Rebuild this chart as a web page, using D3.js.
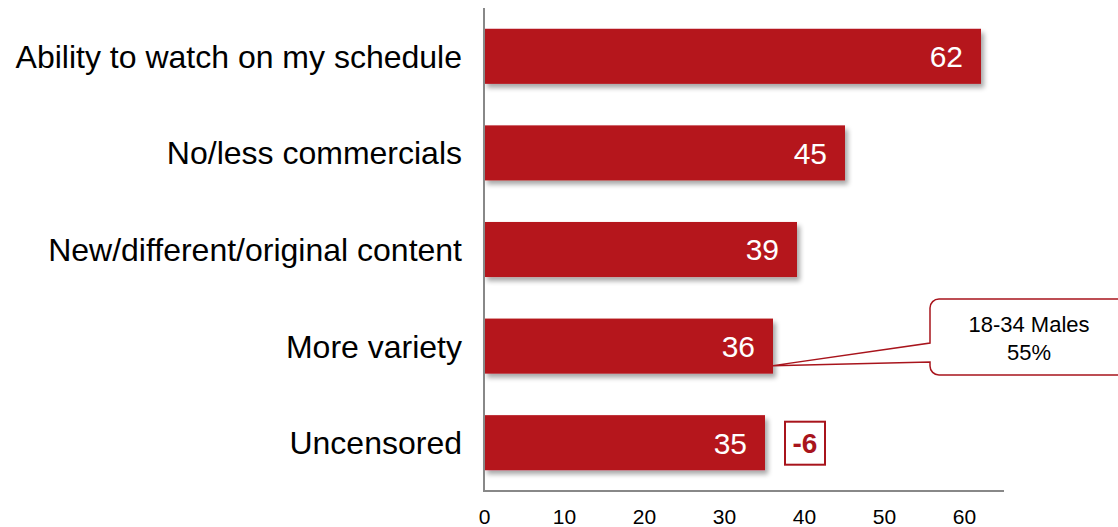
<!DOCTYPE html>
<html>
<head>
<meta charset="utf-8">
<script src="https://cdn.jsdelivr.net/npm/d3@7"></script>
<style>
  body { margin: 0; background: #fff; }
  text { font-family: "Liberation Sans", Arial, sans-serif; }
</style>
</head>
<body>
<script>
var categories = ["Ability to watch on my schedule", "No/less commercials", "New/different/original content", "More variety", "Uncensored"];
var values = [62, 45, 39, 36, 35];
var xTicks = [0, 10, 20, 30, 40, 50, 60];
var calloutLines = ["18-34 Males", "55%"];
var calloutFor = "More variety";
var changeLabel = "-6";
var changeFor = "Uncensored";

var W = 1118, H = 527;
var barColor = "#b5121b";
var darkRed = "#a8141c";

var svg = d3.select("body").append("svg")
  .attr("width", W).attr("height", H);

var defs = svg.append("defs");
var f = defs.append("filter").attr("id", "shadow")
  .attr("x", "-5%").attr("y", "-20%").attr("width", "115%").attr("height", "160%");
f.append("feGaussianBlur").attr("in", "SourceAlpha").attr("stdDeviation", 2.5);
f.append("feOffset").attr("dx", 3).attr("dy", 4).attr("result", "ob");
f.append("feComponentTransfer").append("feFuncA").attr("type", "linear").attr("slope", 0.35);
var m = f.append("feMerge");
m.append("feMergeNode");
m.append("feMergeNode").attr("in", "SourceGraphic");

var x = d3.scaleLinear().domain([0, 65]).range([484, 1004]);
var y = d3.scaleBand().domain(categories).range([8, 491]).paddingInner(0.43).paddingOuter(0.215);

// bars
svg.selectAll("rect.bar")
  .data(values)
  .enter()
  .append("rect")
  .attr("class", "bar")
  .attr("x", x(0))
  .attr("y", function(d, i){ return y(categories[i]); })
  .attr("width", function(d){ return x(d) - x(0) + 1; })
  .attr("height", y.bandwidth())
  .style("fill", barColor)
  .attr("filter", "url(#shadow)");

// value labels
svg.selectAll("text.val")
  .data(values)
  .enter()
  .append("text")
  .attr("class", "val")
  .attr("x", function(d){ return x(d) - 17; })
  .attr("y", function(d, i){ return y(categories[i]) + y.bandwidth() / 2; })
  .attr("dy", "0.36em")
  .attr("text-anchor", "end")
  .style("font-size", "30px")
  .style("fill", "#fff")
  .text(function(d){ return d; });

// category labels
svg.selectAll("text.cat")
  .data(categories)
  .enter()
  .append("text")
  .attr("class", "cat")
  .attr("x", 462)
  .attr("y", function(d){ return y(d) + y.bandwidth() / 2; })
  .attr("dy", "0.36em")
  .attr("text-anchor", "end")
  .style("font-size", "32px")
  .style("fill", "#000")
  .text(function(d){ return d; });

// axes lines
svg.append("line")
  .attr("x1", x(0)).attr("x2", x(0)).attr("y1", 8).attr("y2", 491)
  .style("stroke", "#888").style("stroke-width", 2);
svg.append("line")
  .attr("x1", x(0) - 1).attr("x2", x(65)).attr("y1", 491).attr("y2", 491)
  .style("stroke", "#888").style("stroke-width", 2);

// x tick labels
var xAxis = d3.axisBottom(x).tickValues(xTicks).tickSize(0).tickPadding(0);
var gx = svg.append("g").attr("transform", "translate(0,509)").call(xAxis);
gx.select(".domain").remove();
gx.selectAll("text")
  .attr("dy", "0.71em")
  .style("font-size", "21px")
  .style("font-family", "'Liberation Sans', Arial, sans-serif")
  .style("fill", "#000");

// change box next to bar
var ci = categories.indexOf(changeFor);
var cy = y(changeFor) + y.bandwidth() / 2;
svg.append("rect")
  .attr("x", x(values[ci]) + 21).attr("y", cy - 21)
  .attr("width", 40).attr("height", 43)
  .style("fill", "#fff").style("stroke", darkRed).style("stroke-width", 2);
svg.append("text")
  .attr("x", x(values[ci]) + 41).attr("y", cy)
  .attr("dy", "0.36em")
  .attr("text-anchor", "middle")
  .style("font-size", "28px").style("font-weight", "bold")
  .style("fill", darkRed)
  .text(changeLabel);

// callout
var vi = categories.indexOf(calloutFor);
var tipX = x(values[vi]) + 1, tipY = y(calloutFor) + y.bandwidth() - 8;
var bx = 930, by = 299, bw = 200, bh = 76, r = 9;
var p = d3.path();
p.moveTo(bx + r, by);
p.lineTo(bx + bw, by);
p.lineTo(bx + bw, by + bh);
p.lineTo(bx + r, by + bh);
p.arcTo(bx, by + bh, bx, by + bh - r, r);
p.lineTo(bx, 362);
p.lineTo(tipX, tipY);
p.lineTo(bx, 343);
p.lineTo(bx, by + r);
p.arcTo(bx, by, bx + r, by, r);
p.closePath();
svg.append("path")
  .attr("d", p.toString())
  .style("fill", "#fff").style("stroke", darkRed).style("stroke-width", 1.5);
svg.selectAll("text.callout")
  .data(calloutLines)
  .enter()
  .append("text")
  .attr("class", "callout")
  .attr("x", 1029)
  .attr("y", function(d, i){ return 332 + i * 28; })
  .attr("text-anchor", "middle")
  .style("font-size", "22px")
  .style("fill", "#000")
  .text(function(d){ return d; });
</script>
</body>
</html>
